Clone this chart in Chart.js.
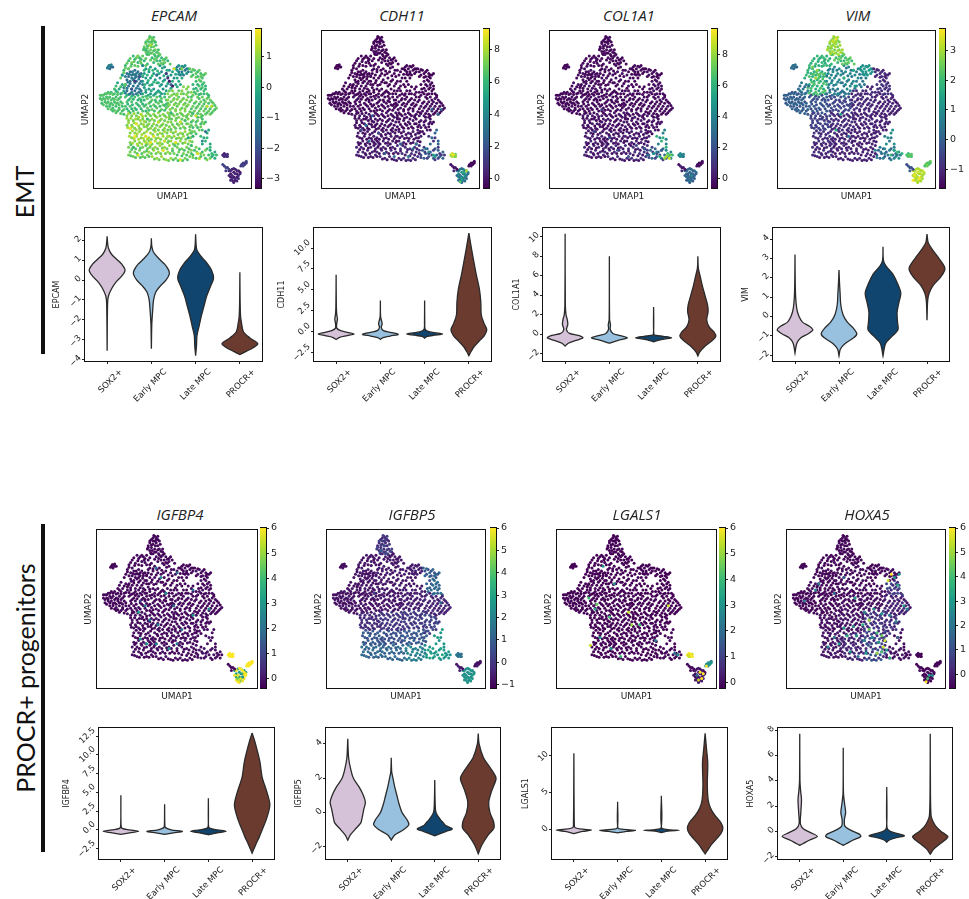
<!DOCTYPE html>
<html>
<head>
<meta charset="utf-8">
<script src="https://cdn.jsdelivr.net/npm/chart.js@4"></script>
<style>
  body { margin: 0; background: #fff; width: 969px; height: 899px; position: relative; overflow: hidden; }
  canvas { position: absolute; }
  .gene { position: absolute; font: italic 15px "Open Sans", sans-serif; color: #222; transform: translate(-50%, -50%); }
  .group { position: absolute; font: 25px Lato, sans-serif; color: #111; white-space: nowrap; transform: translate(-50%, -50%) rotate(-90deg); }
  .bar { position: absolute; background: #111; width: 4px; }
</style>
</head>
<body>
<script>
// umap embedding on a 0-100 grid, one list per patch of cells
const umapRegions = [
  [36,96,37,95,35,95,38,94,34,94,36,93,33,92,39,93,37,92,35,91,32,90,38,90,34,89,36,88,33,87,39,88,37,86,35,85,41,86],
  [41,84,43,83,39,84,45,82,42,81,37,83,40,81,34,85,44,79,47,81,38,80],
  [25,84,28,84,22,81,26,82,30,82,20,78,24,79,28,80,32,81,19,75,22,76,31,78,18,72,34,79,29,83],
  [21,73,23,74,26,75,28,74,30,73,22,71,24,72,27,71,29,71,25,69,21,69,23,68,27,68,30,68,20,66,22,65,25,65,28,65,24,63,26,62,29,63,21,62,23,60,27,60,30,60,26,72],
  [33,76,36,77,39,76,32,73,35,74,38,73,40,72,33,70,36,70,39,69,31,68,34,67,37,66],
  [42,78,45,77,48,75,51,76,43,74,46,73,49,72,42,70,45,69,48,68,51,70,43,66,46,65,50,65,44,63],
  [32,64,35,63,38,63,41,62,33,61,36,60,39,60,43,60],
  [53,77,55,76,57,77,59,76,54,74,56,74,58,75,60,74,55,72,57,72],
  [62,74,64,75,66,74,68,73,70,72,63,72,66,71,69,70,65,68],
  [68,68,70,67,67,65,69,64,66,62,70,62,68,60,64,61,72,60],
  [9,77,10,78,11,77,10,76,12,77],
  [15,67,18,66,16,63,19,62,14,62,17,60],
  [5,59,7,60,9,61,11,61,13,60,4,57,6,57,8,58,10,58,12,57,14,58,16,57,5,54,7,55,9,55,11,54,13,55,15,54,17,55,8,52,10,52,12,51,14,52,16,51,18,52,12,49,15,49,18,49,19,47],
  [20,58,23,57,26,58,29,57,31,58,21,55,24,55,27,54,30,55,20,52,23,52,26,51,29,52,32,52,22,49,25,49,28,48,31,49],
  [34,57,37,56,40,58,43,57,46,56,35,54,38,53,41,54,44,53,47,54,34,51,37,50,40,51,43,50,46,51],
  [48,62,51,60,54,62,57,60,60,61,48,58,51,57,54,58,57,57,60,58,49,55,52,54,55,55,58,54,61,55,47,52,50,51,53,52,56,51,59,52],
  [63,59,66,58,69,58,72,57,62,56,65,55,68,55,71,55,74,56,76,54,63,52,66,52,69,52,72,52,75,52,78,51,64,49,67,49,70,49,73,49,76,49,68,47,71,47,74,47],
  [21,46,24,46,27,46,30,47,22,43,25,43,28,44,31,44,33,46,21,40,24,40,27,41,30,41,33,42,23,38,26,38,29,38,32,39],
  [35,47,38,47,41,48,44,47,47,48,34,44,37,44,40,45,43,44,46,45,35,41,38,41,41,42,44,41,47,42,36,38,39,38,42,39,45,38],
  [49,48,52,49,55,48,58,49,60,47,48,45,51,46,54,45,57,46,60,44,49,42,52,43,55,42,58,43,48,39,51,39,54,40,57,39,60,41],
  [62,46,65,46,68,45,63,43,66,43,69,42,62,40,65,40,68,39,70,41,61,37,64,36,67,37],
  [23,35,26,35,29,36,32,35,24,32,27,33,30,32,33,33,23,29,26,30,29,29,32,30,34,28],
  [36,35,39,36,42,35,45,36,35,32,38,33,41,32,44,33,47,33,36,29,39,30,42,29,45,30],
  [49,36,52,36,55,35,58,36,61,35,48,33,51,33,54,32,57,33,60,32,63,33,49,30,52,29,55,30,58,29,61,30],
  [22,26,25,26,28,27,31,26,34,25,23,23,26,23,29,24,32,23,22,21,25,20,28,21,31,20,34,21],
  [36,27,39,26,42,27,45,26,48,27,35,23,38,24,41,23,44,24,47,23,37,20,40,19,43,20,46,18,49,19],
  [50,25,53,26,56,25,59,26,62,27,51,22,54,23,57,22,60,23,52,19,55,18,58,19,61,20],
  [64,24,67,25,63,21,66,22,69,23,72,25,65,19,68,20,71,19,73,21],
  [75,20,77,19,74,24,77,23,70,32,72,35,69,28,74,28,73,37],
  [82,21,83,20,84,21,83,22,85,20],
  [86,11,88,12,90,12,92,11,87,9,89,10,91,9,93,10,87,7,89,7,91,7,88,5,90,5,89,4],
  [94,15,96,16,97,17,95,14],
  [83,14,85,13,84,11]
];

// second set of cells in the same patches, they carry the other tone of each patch
const umapFill = [
  [35.5,96.5,38,96,33,93,37,93.5,39.5,91,34,90.5,36.5,90,31.5,88,38,87.5,34.5,87,32,89,40,86.5,36,86,33.5,85.5,38.5,85,41,88,35,93],
  [42,85,44,81.5,40,83,46,83,43,79.5,38.5,82,36,81.5,48.5,79,41,79,45,80],
  [23,82.5,27,83,31,84,21,79.5,25.5,80.5,29.5,81,33,82.5,20,76.5,23.5,77.5,30,79.5,19,73.5,33,78,26,78,28,77.5,17,70],
  [20,71,22.5,72.5,24.5,74,27,73,29,72.5,31,71,21.5,67.5,24,70,26,70,28.5,69.5,23,66.5,26,67,29,66.5,31,66,19,64,21,63.5,24,61,27,63.5,30,62,22,59.5,25,59.5,28.5,61,20,60.5,25,72.5],
  [32,75,35,75.5,37.5,75,40.5,74.5,31,71.5,34,72,37,71.5,34.5,68.5,38,67.5,32.5,66,35.5,65.5,40,67],
  [43.5,76.5,46.5,75,50,74,52,72.5,41.5,73,44.5,71.5,47,71,50,68,44,68,47,66.5,42,65,49,63.5,52,66,46,62,41,67,53,70,54,68,55,66,53,64.5,56,70],
  [33,62.5,36.5,62,40,61,42,61,31,60,34.5,59,38,59,42,58.5,45,60],
  [52,76,54,78,56,77.5,58,78,60,76,53,75,56,73,59,73,54,72.5],
  [61,76,63,75.5,65,73,67,75,69,72,71,73,62,71,65,70.5,68,71,67,69],
  [69,66,71,65,66,66,68,63,71,63,65,63.5,70,60,67,59.5,73,59,63,66,63.5,63],
  [9.5,78,11,78.5,8.5,76.5],
  [14,65,17,64.5,19.5,65,15,61,18,60.5,13,63],
  [4,59,6,59,8,60,10,60,12,59.5,15,59.5,5,56,7,56.5,9,57,11,56,13,56.5,15,56,17,58,6,53,8,54,10,53.5,12,53,14,54,16,53,18,54,9,50.5,11,50,13,49.5,16,50,19,50,14,48,17,47.5],
  [21,59,24,58.5,28,59,30,56,22,56,25,56.5,28,56,32,56,21.5,53.5,24.5,53,28,53,31,53.5,21,50.5,24,50.5,27,50,30,50.5,33,49,23,48],
  [33,58.5,36,58,39,56,42,55.5,45,58,36,55,39.5,55,43,55,46,53.5,33,53,36,52,39,52,42,52,45,52.5,35,49.5,38.5,49,42,49,45,49.5],
  [47,60,50,62,53,60,56,62,59,63,49.5,59,52.5,59,55.5,60,59,59.5,62,61,47,56,50.5,56,53,56.5,56,56,59,56,48,53,51,53,54,53.5,57,53,60,53,48.5,50,52,50,55,50,58,50.5,57,64.5,60,64.5],
  [62,58,65,60,67,57,70,56,73,58,64,54,67,53.5,70,53.5,73,54,77,52.5,75,55,62,50.5,65,51,68,50.5,71,50.5,74,50.5,77,50,62.5,48,66,47.5,69,46,72,48,75,48],
  [22,47.5,25.5,47.5,28.5,45,31,45.5,21,44.5,23.5,44.5,26.5,44,29.5,43,32,42.5,22,41.5,25.5,41.5,28.5,39.5,31.5,40.5,33.5,39,24.5,39,21.5,38.5,27,37,30,37.5],
  [34,48,36,46,39,46,42,46,45,46,48,46.5,35.5,43,38.5,43,42,43,45,43,48,44,34,40,37,39.5,40,40,43,40,46,40,34.5,37.5,38,37,41,37,44,37,47,37],
  [50,47,53,47,56,47,59,46,61,48.5,49.5,44,52.5,44.5,56,44,59,45,50,40.5,53,41,56,41,59,41,49,37.5,52,38,55,38,58,38,61,39],
  [63,47.5,66,45,69,44,62,42,65,42,68,41,71,42,63,38.5,66,38.5,69,37,62,35,65,34.5],
  [24.5,36.5,27.5,34.5,30.5,34,33.5,36,22.5,33,25.5,31.5,28.5,31,31.5,31.5,34,31,24.5,28.5,27.5,28,30.5,28,33,29],
  [37.5,34,40.5,34,43.5,34.5,46.5,35,36.5,31,39.5,31.5,42.5,31,46,31.5,37,28,40.5,28.5,43.5,28,47,29,35,30],
  [50.5,35,53.5,34,56.5,34.5,59.5,34,62.5,36,49.5,32,52.5,31.5,55.5,31.5,58.5,31,61.5,32,47.5,30,50.5,28,53.5,28,56.5,28.5,60,28,62.5,29.5],
  [23.5,27.5,26.5,25,29.5,25.5,33,27,24,24.5,27.5,22,30.5,22,33.5,23.5,23.5,20.5,26.5,19.5,29.5,19.5,32.5,19.5,35,20],
  [37.5,25,40.5,25,43.5,25.5,46.5,25,36.5,22,39.5,22,42.5,22,45.5,22,48.5,22,38.5,18.5,41.5,18,44.5,18.5,47.5,17.5,35.5,26],
  [51.5,27,54.5,24.5,57.5,24,60.5,25,50,23.5,53,21,56,20.5,59,21,62,22,50.5,18,53.5,17.5,56.5,17.5,59.5,18],
  [65.5,23,68,22,65,26,63,19.5,67,19,70,21,71,24,74,19,72,18,62,24],
  [76,21,78,21,75,22,74,26,71,30,68,33,72,32],
  [83.5,21,84.5,20,82.5,20.5,85,21.5],
  [87,11,89,12.5,91,11,93,9,88,8,90,9,92,8,86,8,88,6,90,6,92,6,87,5,89,3.5,91,4.5],
  [95,16,96,15,93.5,14,97,16],
  [84,13,82,15,86,12]
];

// expression of each gene per patch, same order as umapRegions
const epcamValues = [.7,.2,.2,-1.4,-.5,-.7,-.6,-1.2,.3,.4,-1.5,-.2,.3,.4,.6,.6,.7,.8,1,.9,.7,.9,1.2,1.1,.8,1.1,.8,.3,-.2,-2.9,-3,-2.2,-2.5];
const cdh11Values = [-.4,-.4,-.4,-.4,-.4,-.4,-.4,-.4,-.4,-.3,-.4,-.4,-.3,-.3,-.3,-.3,-.2,0,-.1,-.2,0,.1,.1,.2,.4,.5,.8,2.2,2.5,8.5,4.2,-.2,.5];
const col1a1Values = [-.3,-.3,-.3,-.2,-.3,-.2,-.3,-.3,-.2,-.1,-.3,-.3,-.3,-.2,-.2,-.2,-.2,.2,.1,.1,.1,.4,.3,.4,.5,.6,.9,3,4,4.2,3.2,-.2,.5];
const vimValues = [2.6,2,2,1.7,1,.9,.6,1.3,-.9,-1,.1,.6,-.2,-.1,-.4,-.9,-1.1,-.5,-.9,-1,-1.1,-.8,-1,-1.1,-.9,-1.1,-1.1,0,1,2,3.3,2.5,0];
const igfbp4Values = [-.2,-.2,-.2,-.2,-.2,-.2,-.2,-.2,-.1,-.1,-.2,-.2,-.2,-.2,-.2,-.2,-.2,-.1,-.1,-.1,-.1,-.1,-.1,-.1,-.1,-.1,-.1,0,-.1,6,3,6,-.1];
const igfbp5Values = [-.4,-.6,-.7,-.7,-.6,-.6,-.6,-.5,.6,1.5,-.8,-.7,-.7,-.7,-.7,-.5,-.3,-.1,.1,.2,.5,1,.8,1,1.4,1.4,2.2,3,2.8,1.8,2.3,-.7,-.5];
const lgals1Values = [-.2,-.2,-.2,-.2,-.2,-.2,-.2,-.2,-.2,-.2,-.2,-.2,-.2,-.2,-.2,-.2,-.2,-.2,-.2,-.2,-.2,-.2,-.2,-.2,-.2,-.2,-.2,-.1,-.1,6,-.1,2.5,-.1];
const hoxa5Values = [-.4,-.4,-.4,-.4,-.3,-.3,-.3,-.4,-.3,.2,-.4,-.3,-.4,-.4,-.3,-.3,-.2,-.2,-.2,0,0,-.2,-.2,.2,-.2,-.1,.3,-.2,-.3,-.4,-.4,-.4,-.4];

// same genes, values of the umapFill cells
const epcamFillValues = [.4,.6,.6,-1.2,.1,-.2,-.1,-.6,.6,.1,-1,.3,.5,.1,.3,.9,.4,1.1,.7,.6,.3,1.2,.8,.7,.5,.7,.4,.8,.2,-2.6,-2.7,-2.4,-2.2];
const cdh11FillValues = [-.5,-.5,-.5,-.5,-.5,-.5,-.5,-.5,-.5,-.5,-.5,-.5,-.5,-.4,-.4,-.4,-.4,-.3,-.3,-.3,-.3,-.2,-.2,-.2,-.1,-.1,.2,1.2,1,7,3,-.4,-.3];
const col1a1FillValues = [-.4,-.4,-.4,-.4,-.4,-.4,-.4,-.4,-.4,-.3,-.4,-.4,-.4,-.4,-.4,-.4,-.4,-.3,-.3,-.3,-.3,-.2,-.2,-.2,-.2,-.1,0,1.5,6,3.8,2.5,-.3,-.2];
const vimFillValues = [3,2.4,1.7,2.2,.6,.5,.3,1,-1.1,-.8,.4,.2,.1,-.4,-.6,-1.1,-1.2,-.7,-1.1,-1.2,-1.2,-1.1,-1.2,-1.2,-1.2,-1.2,-1.2,.6,.5,2.3,3,2.2,-.5];
const igfbp4FillValues = [-.3,-.3,-.3,-.3,-.3,-.3,-.3,-.3,-.3,-.3,-.3,-.3,-.3,-.3,-.3,-.3,-.3,-.3,-.3,-.3,-.3,-.3,-.3,-.3,-.3,-.3,-.3,-.2,-.2,6,5.8,6,-.3];
const igfbp5FillValues = [.2,-.8,-.9,-.9,-.8,-.8,-.8,-.7,1.2,1.1,-.9,-.9,-.9,-.9,-.8,-.7,-.6,-.4,-.2,-.1,0,.6,.5,.6,1,1,1.7,2.5,2.5,1.5,2.6,-.9,-.8];
const lgals1FillValues = [-.22,-.22,-.22,-.22,-.22,-.22,-.22,-.22,-.22,-.22,-.22,-.22,-.22,-.22,-.22,-.22,-.22,-.22,-.22,-.22,-.22,-.22,-.22,-.22,-.22,-.22,-.22,-.2,-.2,5.5,.2,3,-.1];
const hoxa5FillValues = [-.5,-.5,-.5,-.5,-.5,-.5,-.5,-.5,-.4,.8,-.5,-.4,-.5,-.5,-.4,-.4,.2,-.4,-.3,.7,.5,-.2,.3,.9,-.2,.2,1.2,-.3,-.4,-.5,-.5,-.5,-.5];

// single cells that stand out from their patch: x, y, value
const epcamSpots = [36,91,1.2,33,88,.2,39,93,.3,28,84,.9,24,80,.8,31,78,-1,22,76,.7,20,66,.6,18,72,-.7,24,63,-2,26,68,-2.4,29,71,-2,48,68,-3,47,70,-2.8,50,65,-3,46,73,-2.5,49,66,-1.8,40,72,-1.5,56,76,.9,51,76,1.6,30,47,1.4,27,41,1.7,23,38,1.8,26,33,1.8,33,33,1.7,36,29,1.8,38,33,1.7,45,30,1.4,52,29,1.6,60,32,-.2,55,42,1.5,41,42,1.4,58,43,.3,49,48,.2,65,46,1.5,72,52,1.4,75,52,1.3,34,44,.2,44,24,1.7,28,21,1.6,25,26,.2,55,18,1.7,62,27,.2,66,22,1.7,69,30,-.8,63,33,-.1,71,36,-1.5,67,19,1.3];
const cdh11Spots = [25,37,1.8,30,30,3,40,22,2.5,46,20,3.2,55,20,3.5,60,28,3.2,68,23,4,71,21,5,72,20,4.5,66,25,3.5,74,30,2.5,58,25,3,50,28,2.8,32,46,2,28,40,3,36,35,1.6,70,50,2.5,76,50,2.6,74,47,3,90,10,5.5,91,8,4.5,92,11,8,89,6,5,88,4,6.5,84,21,9,85,20,7.5,83,21,9];
const col1a1Spots = [74,20,8.5,76,19,9,75,21,7.5,77,21,7,73,19,8,70,20,6,66,22,5,68,23,3.5,62,21,3,71,24,2.5,74,31,4,60,25,2.5,50,20,1.8,43,24,1.8,55,27,1.6,28,36,1.5,38,32,1.8,33,50,1.2,83,21,4.5,90,8,4,89,5,3.2,88,9,2.5];
const vimSpots = [35,94,3.3,37,95,3.5,36,92,3.1,33,89,2.8,22,77,2.6,25,75,2.8,24,70,3,26,72,2.5,23,66,2.2,29,78,2,42,70,1.8,48,75,1.5,38,60,.8,49,65,1.3,40,47,1.5,37,37,1.8,45,33,.5,74,24,1.5,72,21,1.8,76,23,2,68,25,1,79,22,1.8,87,8,3.6,90,6,3.7,89,10,3.4,91,11,3,86,5,3.7,95,15,2.6,96,16,2.2];
const igfbp4Spots = [40,70,2.5,37,76,2,50,73,2,43,60,2.8,48,52,2,30,52,2.5,26,48,3.2,33,43,2.4,60,46,3,70,50,2.8,38,40,2.2,53,37,2,27,31,3,31,28,3,37,28,2.5,50,28,2.4,45,25,3,60,62,2,90,9,3,88,6,4.5,91,7,3,92,10,6,90,12,6,88,4,6,93,8,6,89,5,5.5,27,55,.8];
const igfbp5Spots = [36,90,.6,34,87,1,37,85,.4,30,60,.2,72,54,1.2];
const lgals1Spots = [36,66,3,29,77,3,20,57,4,25,53,4.5,24,50,3.5,33,45,4,45,48,5.5,47,40,5,27,32,3,21,27,5.5,34,25,3,40,20,4,52,40,4,70,52,5.5,62,30,2.5,85,20,6,84,21,6,83,20,5.5,76,21,3,74,22,2,96,15,3,94,14,6,90,10,6,91,6,6,89,5,5.5,92,9,6,88,8,2];
const hoxa5Spots = [64,68,5.5,68,70,3,71,72,3,70,65,3.5,66,72,6,74,52,3,76,50,2.5,20,66,2,18,62,2.5,11,55,2,43,57,3,49,48,2.5,55,50,2.8,60,47,3,65,46,2.2,69,42,2.5,52,43,5,48,40,3.5,42,39,2.8,36,38,3,57,35,4,60,33,4.5,62,30,5.5,58,29,3,61,26,5.5,60,23,4,63,24,3,57,22,5,65,19,3.5,54,32,2.8,49,30,2.5,44,33,3,38,33,3.5,33,28,3,30,32,2.2,26,26,2.5,40,23,2.8,45,20,2,50,22,3,52,37,4.5,70,32,1.5,90,8,3,89,6,4,88,4,6,92,8,2.5,30,60,1.8,36,70,1.5];

// violins: [value, half width] going down, one list per cell type
const categories = ['SOX2+', 'Early MPC', 'Late MPC', 'PROCR+'];
const violinColors = ['#d5c2d8', '#97c1df', '#10456f', '#6c3b30'];

const epcamViolin = [
  [[2.2,0],[1.9,.01],[1.6,.03],[1.3,.1],[1,.24],[.8,.33],[.5,.405],[.2,.33],[-.1,.2],[-.4,.11],[-.8,.03],[-1.2,.01],[-3.55,0]],
  [[2.1,0],[1.7,.01],[1.4,.05],[1.1,.16],[.8,.3],[.5,.39],[.3,.405],[0,.33],[-.3,.2],[-.6,.1],[-1,.05],[-1.5,.03],[-2.2,.01],[-3.45,0]],
  [[2.3,0],[1.8,.01],[1.5,.03],[1.2,.12],[.9,.24],[.5,.36],[.1,.405],[-.3,.34],[-.8,.25],[-1.3,.19],[-1.8,.13],[-2.3,.08],[-2.8,.03],[-3.3,.02],[-3.8,0]],
  [[.4,0],[-1,.005],[-1.8,.015],[-2.2,.04],[-2.6,.08],[-2.9,.22],[-3.2,.405],[-3.4,.3],[-3.6,.13],[-3.75,0]]
];
const cdh11Violin = [
  [[6.8,0],[3,.005],[2,.015],[1.5,.03],[1,.015],[.4,.015],[.1,.1],[-.1,.25],[-.3,.405],[-.5,.25],[-.7,.08],[-.95,0]],
  [[3.7,0],[1.8,.005],[1.2,.03],[.9,.04],[.5,.02],[.1,.07],[-.1,.22],[-.35,.405],[-.55,.22],[-.75,.06],[-.95,0]],
  [[3.7,0],[1,.003],[.3,.01],[0,.08],[-.15,.22],[-.3,.405],[-.45,.22],[-.6,.06],[-.8,0]],
  [[11.8,0],[10.5,.04],[9,.09],[7,.16],[5,.24],[3.5,.27],[2,.28],[1,.34],[.2,.405],[-.5,.35],[-1,.26],[-1.8,.12],[-2.4,.05],[-2.9,0]]
];
const col1a1Violin = [
  [[10.3,0],[3,.005],[2,.02],[1.5,.05],[1,.06],[.5,.03],[.1,.1],[-.1,.3],[-.35,.405],[-.6,.25],[-.9,.07],[-1.2,0]],
  [[8,0],[1.5,.005],[1,.025],[.5,.02],[.1,.08],[-.1,.22],[-.35,.405],[-.6,.2],[-.9,0]],
  [[2.8,0],[0,.005],[-.1,.06],[-.2,.22],[-.35,.405],[-.5,.2],[-.75,0]],
  [[8,0],[6.8,.01],[6,.05],[5,.1],[4,.16],[3,.22],[2.3,.23],[1.5,.2],[.8,.25],[.2,.37],[-.2,.405],[-.6,.33],[-1.2,.16],[-1.8,.04],[-2.2,0]]
];
const vimViolin = [
  [[3.2,0],[1.8,.005],[1,.015],[.4,.04],[0,.09],[-.3,.17],[-.5,.32],[-.7,.405],[-.9,.3],[-1.1,.14],[-1.4,.04],[-1.9,0]],
  [[2.4,0],[1.8,.01],[1.2,.025],[.6,.04],[.1,.09],[-.3,.19],[-.6,.32],[-.9,.405],[-1.1,.34],[-1.4,.14],[-1.7,.03],[-2.05,0]],
  [[3.6,0],[2.9,.01],[2.6,.07],[2.2,.22],[1.7,.33],[1.2,.405],[.7,.36],[.2,.32],[-.3,.33],[-.7,.34],[-1,.22],[-1.4,.06],[-2.05,0]],
  [[4.25,0],[3.8,.03],[3.4,.14],[3,.27],[2.6,.39],[2.4,.405],[2,.3],[1.6,.14],[1.2,.05],[.8,.015],[-.2,0]]
];
const igfbp4Violin = [
  [[4.6,0],[.6,.004],[.2,.03],[0,.2],[-.2,.405],[-.4,.2],[-.6,0]],
  [[3.4,0],[.6,.005],[.3,.02],[0,.15],[-.2,.405],[-.4,.2],[-.6,0]],
  [[4.2,0],[.5,.003],[.2,.04],[0,.2],[-.2,.405],[-.4,.2],[-.65,0]],
  [[12.9,0],[12,.05],[10.5,.12],[9,.18],[7,.23],[5,.34],[3.3,.405],[1.5,.33],[0,.23],[-1,.16],[-2,.08],[-3.1,0]]
];
const igfbp5Violin = [
  [[4.3,0],[3.2,.02],[2.5,.07],[2,.13],[1.5,.26],[1,.36],[.6,.405],[.2,.37],[-.3,.33],[-.6,.3],[-1,.16],[-1.3,.06],[-1.6,0]],
  [[3.2,0],[2.4,.01],[2,.04],[1.5,.08],[1,.13],[.5,.18],[0,.25],[-.4,.36],[-.7,.405],[-1,.28],[-1.3,.08],[-1.6,0]],
  [[1.9,0],[.5,.01],[0,.03],[-.4,.13],[-.6,.2],[-.75,.25],[-.95,.405],[-1.1,.25],[-1.35,0]],
  [[4.6,0],[4,.02],[3.2,.12],[2.6,.28],[2.1,.4],[1.9,.405],[1.2,.3],[.6,.24],[0,.27],[-.5,.35],[-.9,.36],[-1.3,.23],[-1.9,.08],[-2.4,0]]
];
const lgals1Violin = [
  [[10.3,0],[.6,.01],[.3,.03],[.1,.2],[0,.405],[-.2,.2],[-.5,0]],
  [[3.8,0],[.3,.005],[.1,.1],[-.05,.405],[-.2,.2],[-.4,0]],
  [[4.6,0],[.3,.005],[.05,.15],[-.05,.405],[-.15,.15],[-.35,0]],
  [[13,0],[11,.03],[9,.06],[6,.05],[4,.07],[3,.12],[2,.22],[1,.36],[.2,.405],[-.5,.36],[-1.2,.26],[-2,.14],[-2.7,.06],[-3.2,0]]
];
const hoxa5Violin = [
  [[7.7,0],[4,.005],[3.2,.02],[2.5,.04],[1.5,.025],[.6,.015],[.2,.08],[-.1,.25],[-.4,.405],[-.7,.22],[-1,.06],[-1.1,0]],
  [[6.6,0],[3,.005],[2.2,.03],[1.5,.055],[.9,.025],[.4,.04],[.1,.17],[-.2,.36],[-.4,.405],[-.7,.22],[-1,.06],[-1.1,0]],
  [[3.5,0],[.3,.005],[0,.08],[-.2,.28],[-.35,.405],[-.5,.22],[-.7,.05],[-.85,0]],
  [[7.7,0],[3,.005],[1.2,.02],[.8,.06],[.4,.13],[0,.25],[-.4,.405],[-.6,.37],[-1,.22],[-1.4,.08],[-1.8,0]]
];

// colorbar ranges and ticks
const viridis = ['#440154','#482878','#3e4989','#31688e','#26828e','#1f9e89','#35b779','#6ece58','#b5de2b','#fde725'];

const panels = [
  { gene: 'EPCAM', values: epcamValues, fillValues: epcamFillValues, spots: epcamSpots, violin: epcamViolin, range: [-3.3, 1.9], cbTicks: [-3,-2,-1,0,1],
    umap: [94,29,159,159], cb: [255,29,6,159], titleAt: [174,15],
    vio: [85,228,177,133], yRange: [-4.07,2.62], yTicks: [-4,-3,-2,-1,0,1,2], yTitleX: 57, digits: 0 },
  { gene: 'CDH11', values: cdh11Values, fillValues: cdh11FillValues, spots: cdh11Spots, violin: cdh11Violin, range: [-.6, 9.3], cbTicks: [0,2,4,6,8],
    umap: [322,29,159,159], cb: [483,29,6,159], titleAt: [402,15],
    vio: [314,228,177,133], yRange: [-3.54,12.4], yTicks: [-2.5,0,2.5,5,7.5,10], yTitleX: 282, digits: 1 },
  { gene: 'COL1A1', values: col1a1Values, fillValues: col1a1FillValues, spots: col1a1Spots, violin: col1a1Violin, range: [-.6, 9.68], cbTicks: [0,2,4,6,8],
    umap: [550,29,159,159], cb: [711,29,6,159], titleAt: [629,15],
    vio: [543,228,177,133], yRange: [-2.72,10.89], yTicks: [-2,0,2,4,6,8,10], yTitleX: 517, digits: 0 },
  { gene: 'VIM', values: vimValues, fillValues: vimFillValues, spots: vimSpots, violin: vimViolin, range: [-1.64, 3.73], cbTicks: [-1,0,1,2,3],
    umap: [778,29,159,159], cb: [939,29,6,159], titleAt: [858,15],
    vio: [773,228,176,133], yRange: [-2.31,4.57], yTicks: [-2,-1,0,1,2,3,4], yTitleX: 746, digits: 0 },
  { gene: 'IGFBP4', values: igfbp4Values, fillValues: igfbp4FillValues, spots: igfbp4Spots, violin: igfbp4Violin, range: [-.39, 6], cbTicks: [0,1,2,3,4,5,6],
    umap: [97,528,162,160], cb: [260,528,6,160], titleAt: [180,514],
    vio: [99,728,175,131], yRange: [-3.88,13.57], yTicks: [-2.5,0,2.5,5,7.5,10,12.5], yTitleX: 67, digits: 1 },
  { gene: 'IGFBP5', values: igfbp5Values, fillValues: igfbp5FillValues, spots: igfbp5Spots, violin: igfbp5Violin, range: [-1.16, 6], cbTicks: [-1,0,1,2,3,4,5,6],
    umap: [327,528,160,160], cb: [490,528,6,160], titleAt: [412,514],
    vio: [326,728,174,131], yRange: [-2.7,4.93], yTicks: [-2,0,2,4], yTitleX: 299, digits: 0 },
  { gene: 'LGALS1', values: lgals1Values, fillValues: lgals1FillValues, spots: lgals1Spots, violin: lgals1Violin, range: [-.23, 6], cbTicks: [0,1,2,3,4,5,6],
    umap: [557,528,161,160], cb: [719,528,6,160], titleAt: [637,514],
    vio: [552,728,175,131], yRange: [-3.9,13.7], yTicks: [0,5,10], yTitleX: 526, digits: 0 },
  { gene: 'HOXA5', values: hoxa5Values, fillValues: hoxa5FillValues, spots: hoxa5Spots, violin: hoxa5Violin, range: [-.57, 6], cbTicks: [0,1,2,3,4,5,6],
    umap: [787,528,160,160], cb: [949,528,6,160], titleAt: [867,514],
    vio: [778,728,174,131], yRange: [-2.18,8.16], yTicks: [-2,0,2,4,6,8], yTitleX: 751, digits: 0 }
];

Chart.defaults.font.family = '"DejaVu Sans"';
Chart.defaults.color = '#222';
Chart.defaults.animation = false;
Chart.defaults.responsive = false;

const framePlugin = {
  id: 'frame',
  afterDraw(chart) {
    const a = chart.chartArea, c = chart.ctx;
    c.save();
    c.strokeStyle = '#111';
    c.lineWidth = 1;
    c.strokeRect(a.left - .5, a.top - .5, a.width + 1, a.height + 1);
    c.restore();
  }
};

function hexToRgb(h) {
  return [1, 3, 5].map(i => parseInt(h.substr(i, 2), 16));
}

function viridisAt(t) {
  t = Math.min(1, Math.max(0, t)) * (viridis.length - 1);
  const i = Math.min(viridis.length - 2, Math.floor(t));
  const a = hexToRgb(viridis[i]), b = hexToRgb(viridis[i + 1]);
  const f = t - i;
  return `rgb(${a.map((v, k) => Math.round(v + (b[k] - v) * f)).join(',')})`;
}

function minusSign(text) {
  return String(text).replace('-', '\u2212');
}

function addCanvas(left, top, w, h) {
  const el = document.createElement('canvas');
  el.width = w;
  el.height = h;
  el.style.left = left + 'px';
  el.style.top = top + 'px';
  document.body.appendChild(el);
  return el;
}

function addText(cls, text, x, y) {
  const el = document.createElement('div');
  el.className = cls;
  el.textContent = text;
  el.style.left = x + 'px';
  el.style.top = y + 'px';
  document.body.appendChild(el);
}

// fixed axis box, so the plot area lands where the panel is in the picture
function fixBox(s, size) {
  if (s.isHorizontal()) s.height = size; else s.width = size;
  s.paddingTop = s.paddingBottom = s.paddingLeft = s.paddingRight = 0;
}

function drawUmap(p) {
  const [l, t, w, h] = p.umap;
  const padL = 14, padB = 14, padT = 2, padR = 2;
  const pts = [], colors = [];
  const norm = v => (v - p.range[0]) / (p.range[1] - p.range[0]);
  const addCells = (lists, vals) => lists.forEach((reg, r) => {
    for (let i = 0; i < reg.length; i += 2) {
      pts.push({ x: reg[i], y: reg[i + 1] });
      colors.push(viridisAt(norm(vals[r])));
    }
  });
  addCells(umapRegions, p.values);
  addCells(umapFill, p.fillValues);
  for (let i = 0; i < p.spots.length; i += 3) {
    pts.push({ x: p.spots[i], y: p.spots[i + 1] });
    colors.push(viridisAt(norm(p.spots[i + 2])));
  }
  new Chart(addCanvas(l - padL, t - padT, w + padL + padR, h + padT + padB), {
    type: 'scatter',
    data: { datasets: [{ data: pts, pointBackgroundColor: colors, pointBorderWidth: 0, pointRadius: 1.5 }] },
    options: {
      layout: { padding: { top: padT, right: padR } },
      plugins: { legend: { display: false }, tooltip: { enabled: false } },
      scales: {
        x: { min: 0, max: 100, grid: { display: false }, border: { display: false }, ticks: { display: false },
             title: { display: true, text: 'UMAP1', font: { size: 9 }, padding: 0 },
             afterFit: s => fixBox(s, padB) },
        y: { min: 0, max: 100, grid: { display: false }, border: { display: false }, ticks: { display: false },
             title: { display: true, text: 'UMAP2', font: { size: 9 }, padding: 0 },
             afterFit: s => fixBox(s, padL) }
      }
    },
    plugins: [framePlugin]
  });
}

function drawColorbar(p) {
  const [l, t, w, h] = p.cb;
  const padR = 26, padT = 6, padB = 6;
  new Chart(addCanvas(l, t - padT, w + padR, h + padT + padB), {
    type: 'bar',
    data: {
      labels: [p.gene],
      datasets: [{
        data: [p.range],
        barPercentage: 1,
        categoryPercentage: 1,
        backgroundColor(ctx) {
          const a = ctx.chart.chartArea;
          if (!a) return viridis[0];
          const g = ctx.chart.ctx.createLinearGradient(0, a.bottom, 0, a.top);
          viridis.forEach((c, i) => g.addColorStop(i / (viridis.length - 1), c));
          return g;
        }
      }]
    },
    options: {
      layout: { padding: { top: padT, bottom: padB } },
      plugins: { legend: { display: false }, tooltip: { enabled: false } },
      scales: {
        x: { display: false },
        y: {
          position: 'right',
          min: p.range[0],
          max: p.range[1],
          grid: { display: true, drawOnChartArea: false, tickLength: 3, color: '#222' },
          border: { display: false },
          afterBuildTicks: s => { s.ticks = p.cbTicks.map(v => ({ value: v })); },
          ticks: { padding: 2, font: { size: 9.5 }, callback: v => minusSign(v) },
          afterFit: s => fixBox(s, padR)
        }
      }
    },
    plugins: [framePlugin]
  });
}

function drawViolin(p) {
  const [l, t, w, h] = p.vio;
  const padL = l - p.yTitleX + 5, padB = 50, padT = 2, padR = 3;
  const datasets = p.violin.map((profile, cat) => ({
    data: profile.map(([v, hw]) => ({ x: cat + hw, y: v }))
      .concat(profile.slice().reverse().map(([v, hw]) => ({ x: cat - hw, y: v }))),
    fill: 'shape',
    backgroundColor: violinColors[cat],
    borderColor: '#2a2a2a',
    borderWidth: 1.3,
    tension: .3,
    pointRadius: 0
  }));
  const yOffset = p.digits ? -7 : -3;
  new Chart(addCanvas(l - padL, t - padT, w + padL + padR, h + padT + padB), {
    type: 'line',
    data: { datasets },
    options: {
      layout: { padding: { top: padT, right: padR } },
      plugins: { legend: { display: false }, tooltip: { enabled: false } },
      scales: {
        x: {
          type: 'linear', min: -.5, max: 3.5,
          grid: { display: true, drawOnChartArea: false, tickLength: 3, color: '#222' },
          border: { display: false },
          afterBuildTicks: s => { s.ticks = categories.map((c, i) => ({ value: i })); },
          ticks: { autoSkip: false, minRotation: 45, maxRotation: 45, padding: 3, labelOffset: 14, font: { size: 8.5 },
                   callback: v => categories[v] },
          afterFit: s => fixBox(s, padB)
        },
        y: {
          min: p.yRange[0], max: p.yRange[1],
          grid: { display: true, drawOnChartArea: false, tickLength: 3, color: '#222' },
          border: { display: false },
          afterBuildTicks: s => { s.ticks = p.yTicks.map(v => ({ value: v })); },
          title: { display: true, text: p.gene, font: { size: 8 }, padding: 0 },
          ticks: { minRotation: 45, maxRotation: 45, padding: 2, labelOffset: yOffset, font: { size: 8.5 },
                   callback: v => minusSign(v.toFixed(p.digits)) },
          afterFit: s => fixBox(s, padL)
        }
      }
    },
    plugins: [framePlugin]
  });
}

panels.forEach(p => {
  drawUmap(p);
  drawColorbar(p);
  drawViolin(p);
  addText('gene', p.gene, p.titleAt[0], p.titleAt[1]);
});

[[26, 328], [524, 328]].forEach(([top, height]) => {
  const el = document.createElement('div');
  el.className = 'bar';
  el.style.cssText = `left:41px;top:${top}px;height:${height}px`;
  document.body.appendChild(el);
});
addText('group', 'EMT', 24, 192);
addText('group', 'PROCR+ progenitors', 25, 678);
</script>
</body>
</html>
